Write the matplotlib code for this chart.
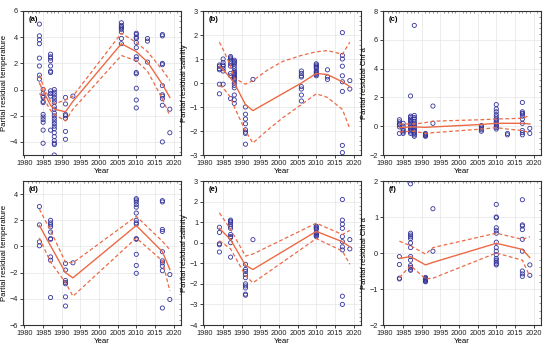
import matplotlib
matplotlib.use("Agg")
import matplotlib.pyplot as plt
from matplotlib.ticker import MultipleLocator, AutoMinorLocator

plt.rcParams['font.family'] = ['Liberation Sans', 'DejaVu Sans']

# ---------------- data ----------------
# (a) temperature, model 1
a_pts = {
    1984: [5.0, 4.1, 3.8, 3.5, 2.4, 1.8, 1.1, 0.8],
    1985: [0.0, -0.3, -0.5, -0.6, -0.9, -1.0, -1.9, -2.1, -2.3, -2.5, -3.1, -4.1],
    1987: [2.7, 2.5, 2.4, 2.2, 1.8, 1.4, 1.3, -0.1, -0.3, -0.5, -3.1],
    1988: [0.0, -0.2, -0.4, -0.6, -0.8, -1.0, -1.3, -1.5, -1.8, -2.0, -2.2, -2.4,
           -2.6, -2.8, -3.0, -3.3, -3.6, -3.9, -4.1, -4.2, -5.0],
    1991: [-0.6, -1.1, -1.9, -2.0, -2.2, -3.2, -3.8],
    1993: [-0.5],
    2006: [5.1, 4.9, 4.8, 4.7, 4.6, 4.4, 3.9, 3.5],
    2010: [4.3, 4.2, 4.0, 3.9, 3.6, 3.2, 2.5, 2.3, 1.3, 1.2, 0.1, -0.8, -1.4],
    2013: [3.9, 3.7, 2.1],
    2017: [4.2, 4.1, 2.0, 1.9, 0.3, -0.4, -0.5, -0.7, -1.2, -4.0],
    2019: [-1.5, -3.3],
}
a_years = [1984, 1985, 1987, 1988, 1991, 1993, 2006, 2010, 2013, 2017, 2019]
a_fit = [0.5, -0.1, -1.2, -1.5, -1.7, -0.9, 3.5, 2.9, 2.1, 0.4, -0.6]
a_ci_years = a_years
a_up = [1.1, 0.3, -0.9, -1.1, -0.8, -0.5, 4.3, 3.6, 2.9, 1.5, 0.7]
a_lo = [-0.3, -0.6, -1.6, -1.9, -2.4, -1.5, 2.6, 2.2, 1.4, -0.7, -2.0]

# (b) salinity, model 1
b_pts = {
    1984: [0.75, 0.7, 0.6, 0.55, -0.05, -0.45],
    1985: [1.0, 0.85, 0.75, 0.7, 0.6, 0.5, -0.05],
    1987: [1.1, 1.05, 1.0, 0.9, 0.8, 0.7, 0.4, 0.3, -0.65],
    1988: [0.95, 0.9, 0.85, 0.8, 0.7, 0.6, 0.5, 0.45, 0.4, 0.35, 0.3, 0.25, 0.2,
           0.15, 0.1, 0.0, -0.1, -0.2, -0.5, -0.7, -0.85],
    1991: [-1.0, -1.3, -1.5, -1.7, -1.95, -2.05, -2.1, -2.55],
    1993: [0.15],
    2006: [0.5, 0.4, 0.3, 0.25, -0.15, -0.25, -0.5, -0.75],
    2010: [0.8, 0.75, 0.7, 0.65, 0.6, 0.5, 0.45, 0.4, 0.35, 0.3],
    2013: [0.55, 0.25, 0.15],
    2017: [2.1, 1.15, 1.0, 0.7, 0.3, 0.05, -0.35, -2.6, -2.9],
    2019: [0.1, -0.25],
}
b_years = [1984, 1985, 1987, 1988, 1991, 1993, 2006, 2010, 2013, 2017, 2019]
b_fit = [0.7, 0.55, 0.2, 0.0, -0.9, -1.15, 0.0, 0.4, 0.35, 0.05, -0.15]
b_ci_years = [1984, 1985, 1987, 1988, 1991, 1993, 1997, 2001, 2006, 2010, 2013, 2017, 2019]
b_up = [1.7, 1.4, 0.7, 0.2, -0.05, 0.1, 0.55, 0.9, 1.15, 1.3, 1.35, 1.2, 1.7]
b_lo = [-0.1, -0.2, -0.6, -1.0, -2.0, -2.5, -1.95, -1.45, -0.9, -0.45, -0.6, -1.1, -1.9]

# (c) Chl a, model 1
c_pts = {
    1984: [0.45, 0.3, 0.15, 0.1, -0.05, -0.5],
    1985: [0.2, 0.0, -0.2, -0.3, -0.4, -0.5],
    1987: [2.1, 0.7, 0.6, 0.5, 0.4, 0.3, 0.2, 0.1, 0.0, -0.1, -0.2, -0.3, -0.4, -0.5],
    1988: [7.0, 0.75, 0.6, 0.5, 0.35, 0.2, 0.1, 0.0, -0.1, -0.2, -0.3, -0.4, -0.5,
           -0.6, -0.7],
    1991: [-0.5, -0.55, -0.6, -0.65, -0.7],
    1993: [1.4, 0.2],
    2006: [0.05, -0.05, -0.15, -0.25, -0.35],
    2010: [1.5, 1.2, 1.0, 0.8, 0.65, 0.5, 0.4, 0.3, 0.2, 0.1, 0.0, -0.1, -0.2],
    2013: [-0.5, -0.6],
    2017: [1.65, 1.0, 0.9, 0.85, 0.7, 0.5, 0.2, -0.3, -0.45, -0.6],
    2019: [-0.15, -0.5],
}
c_years = [1984, 1985, 1987, 1988, 1991, 1993, 2006, 2010, 2013, 2017, 2019]
c_fit = [-0.1, -0.08, -0.05, -0.05, -0.08, -0.05, 0.12, 0.2, 0.2, 0.2, 0.15]
c_ci_years = c_years
c_up = [0.15, 0.15, 0.15, 0.15, 0.25, 0.35, 0.45, 0.5, 0.52, 0.55, 0.75]
c_lo = [-0.4, -0.38, -0.35, -0.35, -0.5, -0.45, -0.2, -0.1, -0.2, -0.3, -0.45]

# (d) temperature, model 2
d_pts = {
    1984: [3.05, 1.65, 0.35, 0.05],
    1987: [2.0, 1.8, 1.65, 1.5, 1.1, 0.6, 0.55, -0.8, -1.05, -3.9],
    1991: [-1.3, -1.8, -2.6, -2.75, -2.85, -3.85, -4.55],
    1993: [-1.25],
    2010: [3.65, 3.55, 3.4, 3.2, 3.0, 2.55, 2.0, 1.8, 1.7, 0.6, 0.55, -0.6, -1.45, -2.05],
    2017: [3.5, 3.4, 1.3, 1.15, -0.4, -1.1, -1.25, -1.5, -1.85, -4.7],
    2019: [-2.15, -4.05],
}
d_years = [1984, 1987, 1991, 1993, 2010, 2017, 2019]
d_fit = [1.6, 0.05, -2.0, -2.4, 1.6, -0.4, -1.75]
d_ci_years = d_years
d_up = [2.85, 1.2, -1.2, -1.25, 2.3, 0.4, -0.25]
d_lo = [0.65, -1.2, -2.75, -3.8, 0.65, -1.1, -3.4]

# (e) salinity, model 2
e_pts = {
    1984: [0.75, 0.5, -0.05, -0.1, -0.45],
    1987: [1.1, 1.05, 1.0, 0.9, 0.8, 0.7, 0.4, 0.3, 0.25, 0.0, -0.7],
    1991: [-1.05, -1.3, -1.4, -1.55, -1.7, -2.0, -2.1, -2.2, -2.5, -2.55],
    1993: [0.15],
    2010: [0.8, 0.75, 0.7, 0.65, 0.5, 0.45, 0.4, 0.35, 0.3],
    2017: [2.1, 1.1, 0.9, 0.7, 0.3, 0.05, -0.2, -0.35, -2.6, -3.0],
    2019: [0.15, -0.3],
}
e_years = [1984, 1987, 1991, 1993, 2010, 2017, 2019]
e_fit = [0.7, 0.15, -1.1, -1.3, 0.55, 0.05, -0.2]
e_ci_years = e_years
e_up = [1.45, 0.65, -0.65, -0.55, 0.95, 0.4, 0.6]
e_lo = [0.1, -0.3, -1.6, -1.95, 0.2, -0.4, -1.05]

# (f) Chl a, model 2
f_pts = {
    1984: [-0.1, -0.32, -0.7, -0.72],
    1987: [1.92, 0.55, 0.5, 0.45, 0.4, 0.28, 0.15, -0.1, -0.2, -0.35, -0.4, -0.45, -0.48],
    1991: [-0.68, -0.7, -0.72, -0.74, -0.76, -0.78, -0.8],
    1993: [1.23, 0.05],
    2010: [1.35, 1.0, 0.98, 0.7, 0.62, 0.55, 0.3, 0.15, 0.05, -0.05, -0.15, -0.2,
           -0.25, -0.3, -0.33],
    2017: [1.48, 0.78, 0.75, 0.65, 0.38, 0.05, -0.5, -0.58, -0.65],
    2019: [-0.33, -0.62],
}
f_years = [1984, 1987, 1991, 1993, 2010, 2017, 2019]
f_fit = [-0.15, -0.1, -0.33, -0.26, 0.27, 0.1, -0.13]
f_ci_years = f_years
f_up = [0.33, 0.2, -0.03, 0.15, 0.55, 0.38, 0.45]
f_lo = [-0.68, -0.35, -0.72, -0.7, 0.0, -0.2, -0.65]

panels = [
    ("(a)", "Partial residual temperature", a_pts, a_years, a_fit, a_ci_years, a_up, a_lo, (-5, 6), 2),
    ("(b)", "Partial residual salinity", b_pts, b_years, b_fit, b_ci_years, b_up, b_lo, (-3, 3), 1),
    ("(c)", "Partial residual Chl a", c_pts, c_years, c_fit, c_ci_years, c_up, c_lo, (-2, 8), 2),
    ("(d)", "Partial residual temperature", d_pts, d_years, d_fit, d_ci_years, d_up, d_lo, (-6, 5), 2),
    ("(e)", "Partial residual salinity", e_pts, e_years, e_fit, e_ci_years, e_up, e_lo, (-4, 3), 1),
    ("(f)", "Partial residual Chl a", f_pts, f_years, f_fit, f_ci_years, f_up, f_lo, (-2, 2), 1),
]

xticks = [1980, 1985, 1990, 1995, 2000, 2005, 2010, 2015, 2020]

# ---------------- figure ----------------
fig = plt.figure(figsize=(5.5, 3.5), dpi=100)
lefts = [23, 203, 383]
tops = [11, 181]
W, H = 158, 144

pt_color = '#34349a'
ln_color = '#ec6a45'
fs = 5.3

for i, (lab, ylab, pts, yrs, fit, ciy, up, lo, ylim, ystep) in enumerate(panels):
    r, c = divmod(i, 3)
    ax = fig.add_axes([lefts[c] / 550, 1 - (tops[r] + H) / 350, W / 550, H / 350])
    ax.grid(True, color='#e4e4e4', linewidth=0.5, zorder=0)
    xs, ys = [], []
    for yr, vals in pts.items():
        xs += [yr] * len(vals)
        ys += vals
    ax.scatter(xs, ys, s=9, facecolors='none', edgecolors=pt_color, linewidths=0.6, zorder=3)
    ax.plot(yrs, fit, color=ln_color, lw=1.0, zorder=4)
    ax.plot(ciy, up, color=ln_color, lw=0.9, ls=(0, (3, 2)), zorder=4)
    ax.plot(ciy, lo, color=ln_color, lw=0.9, ls=(0, (3, 2)), zorder=4)
    ax.set_xlim(1979.6, 2022)
    ax.set_ylim(*ylim)
    ax.set_xticks(xticks)
    ax.yaxis.set_major_locator(MultipleLocator(ystep))
    ax.yaxis.set_minor_locator(AutoMinorLocator(5))
    ax.xaxis.set_minor_locator(AutoMinorLocator(5))
    ax.tick_params(axis='both', which='major', labelsize=fs, length=2.5, width=0.6,
                   pad=1.0, direction='out', colors='#222222')
    ax.tick_params(axis='both', which='minor', length=1.2, width=0.4, direction='in',
                   top=True, right=True, bottom=False, left=False, colors='#444444')
    for s in ax.spines.values():
        s.set_color('#333333')
        s.set_linewidth(0.8)
    ax.set_xlabel("Year", fontsize=fs + 0.3, labelpad=0.5)
    ax.set_ylabel(ylab, fontsize=fs + 0.3, labelpad=1.0)
    ax.text(0.035, 0.965, lab, transform=ax.transAxes, fontsize=fs + 0.2,
            fontweight='bold', va='top', ha='left')

fig.savefig("out.png", dpi=100)
